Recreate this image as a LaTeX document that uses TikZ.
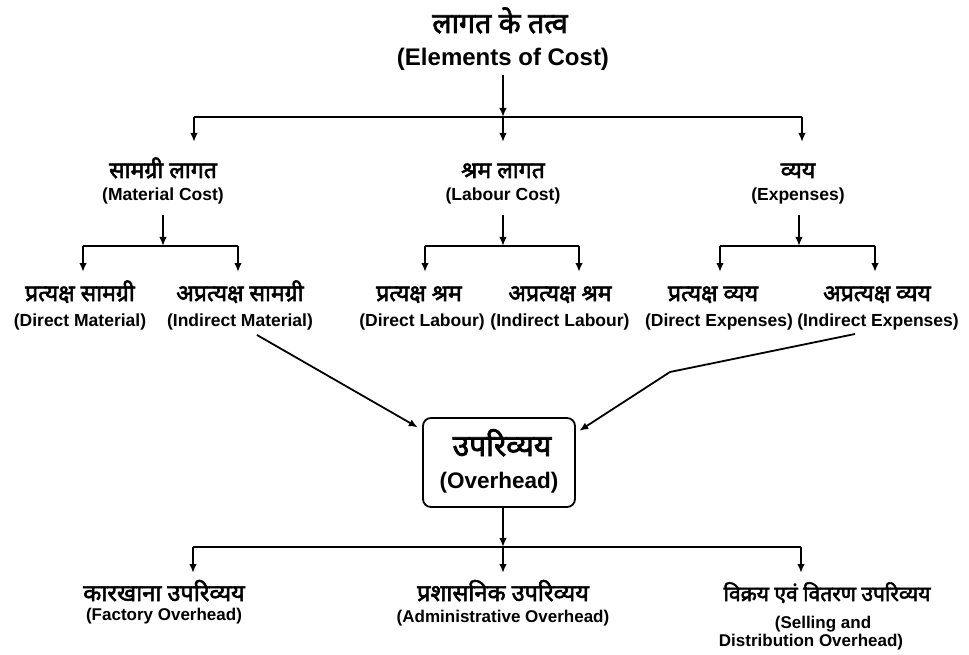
\documentclass[tikz,border=0pt]{standalone}
\usepackage{fontspec}
\setmainfont{Liberation Sans}
\newfontfamily\hindi[Script=Devanagari, FakeBold=2.5]{Noto Sans}
\usetikzlibrary{arrows.meta}
\begin{document}
\begin{tikzpicture}[x=1pt,y=-1pt,
  ln/.style={line width=1.8pt, black},
  arr/.style={ln, -{Latex[length=9pt,width=7.5pt]}},
  hiT/.style={font=\hindi\fontsize{28.5}{30}\selectfont, inner sep=0pt, anchor=base},
  hi/.style={font=\hindi\fontsize{23}{25}\selectfont, inner sep=0pt, anchor=base},
  hiB/.style={font=\hindi\fontsize{23.5}{25}\selectfont, inner sep=0pt, anchor=base},
  enT/.style={font=\bfseries\fontsize{24}{26}\selectfont, inner sep=0pt, anchor=base},
  en/.style={font=\bfseries\fontsize{17.5}{19}\selectfont, inner sep=0pt, anchor=base},
  enB/.style={font=\bfseries\fontsize{17}{19}\selectfont, inner sep=0pt, anchor=base},
]
\useasboundingbox (0,0) rectangle (969,655);

% title
\node[hiT] (tH) at (500,33) {लागत के तत्व};
\node[enT] (tE) at (503,66) {(Elements of Cost)};

% level 2
\node[hi] (matH) at (163,178) {सामग्री लागत};
\node[en] (matE) at (163,201) {(Material Cost)};
\node[hi] (labH) at (503,178) {श्रम लागत};
\node[en] (labE) at (503,201) {(Labour Cost)};
\node[hi] (expH) at (798,178) {व्यय};
\node[en] (expE) at (798,201) {(Expenses)};

% level 3
\node[hi] (dmH) at (80,301) {प्रत्यक्ष सामग्री};
\node[en] (dmE) at (80,326) {(Direct Material)};
\node[hi] (imH) at (240,301) {अप्रत्यक्ष सामग्री};
\node[en] (imE) at (240,326) {(Indirect Material)};
\node[hi] (dlH) at (419,301) {प्रत्यक्ष श्रम};
\node[en] (dlE) at (422,326) {(Direct Labour)};
\node[hi] (ilH) at (560,301) {अप्रत्यक्ष श्रम};
\node[en] (ilE) at (560,326) {(Indirect Labour)};
\node[hi] (deH) at (713,301) {प्रत्यक्ष व्यय};
\node[en] (deE) at (719,326) {(Direct Expenses)};
\node[hi] (ieH) at (877,301) {अप्रत्यक्ष व्यय};
\node[en] (ieE) at (878,326) {(Indirect Expenses)};

% overhead box
\node[draw, ln, rounded corners=8pt, minimum width=152pt, minimum height=89pt, inner sep=0pt] (ov) at (499,462.5) {};
\node[font=\hindi\fontsize{30}{32}\selectfont, inner sep=0pt, anchor=base] (ovH) at (502,456) {उपरिव्यय};
\node[font=\bfseries\fontsize{22.5}{24}\selectfont, inner sep=0pt, anchor=base] (ovE) at (499,488) {(Overhead)};

% bottom
\node[hiB] (faH) at (164,601) {कारखाना उपरिव्यय};
\node[enB] (faE) at (164,620) {(Factory Overhead)};
\node[hiB] (adH) at (503,601) {प्रशासनिक उपरिव्यय};
\node[enB] (adE) at (503,622) {(Administrative Overhead)};
\node[hiB, font=\hindi\fontsize{21}{23}\selectfont] (seH) at (827,601) {विक्रय एवं वितरण उपरिव्यय};
\node[enB] (seE1) at (823,628) {(Selling and};
\node[enB] (seE2) at (811,646) {Distribution Overhead)};

% junction coordinates
\coordinate (t0) at (503,75);
\coordinate (t1) at (503,117);
\coordinate (tL) at (194,117);
\coordinate (tR) at (802,117);
\coordinate (matIn) at (194,142);
\coordinate (labIn) at (503,142);
\coordinate (expIn) at (802,142);

\coordinate (m0) at (163,215);
\coordinate (m1) at (163,246);
\coordinate (mL) at (83,246);
\coordinate (mR) at (238,246);
\coordinate (dmIn) at (83,272);
\coordinate (imIn) at (238,272);

\coordinate (l0) at (503,215);
\coordinate (l1) at (503,246);
\coordinate (lL) at (425,246);
\coordinate (lR) at (579,246);
\coordinate (dlIn) at (425,272);
\coordinate (ilIn) at (579,272);

\coordinate (e0) at (799,215);
\coordinate (e1) at (799,246);
\coordinate (eL) at (720,246);
\coordinate (eR) at (875,246);
\coordinate (deIn) at (720,272);
\coordinate (ieIn) at (875,272);

\coordinate (imOut) at (257,335);
\coordinate (ieOut) at (855,334);
\coordinate (ieBend) at (670,372);

\coordinate (b1) at (503,547);
\coordinate (bL) at (193,547);
\coordinate (bR) at (801,547);
\coordinate (faIn) at (193,573);
\coordinate (adIn) at (503,573);
\coordinate (seIn) at (801,573);

% connectors
\draw[arr] (t0) -- (t1);
\draw[ln] (tL) -- (tR);
\draw[arr] (tL) -- (matIn);
\draw[arr] (t1) -- (labIn);
\draw[arr] (tR) -- (expIn);

\draw[arr] (m0) -- (m1);
\draw[ln] (mL) -- (mR);
\draw[arr] (mL) -- (dmIn);
\draw[arr] (mR) -- (imIn);

\draw[arr] (l0) -- (l1);
\draw[ln] (lL) -- (lR);
\draw[arr] (lL) -- (dlIn);
\draw[arr] (lR) -- (ilIn);

\draw[arr] (e0) -- (e1);
\draw[ln] (eL) -- (eR);
\draw[arr] (eL) -- (deIn);
\draw[arr] (eR) -- (ieIn);

\draw[arr, shorten >=5pt] (imOut) -- (ov.157);
\draw[arr, shorten >=4pt] (ieOut) -- (ieBend) -- (ov.21);

\draw[arr] (ov.south -| b1) -- (b1);
\draw[ln] (bL) -- (bR);
\draw[arr] (bL) -- (faIn);
\draw[arr] (b1) -- (adIn);
\draw[arr] (bR) -- (seIn);
\end{tikzpicture}
\end{document}
